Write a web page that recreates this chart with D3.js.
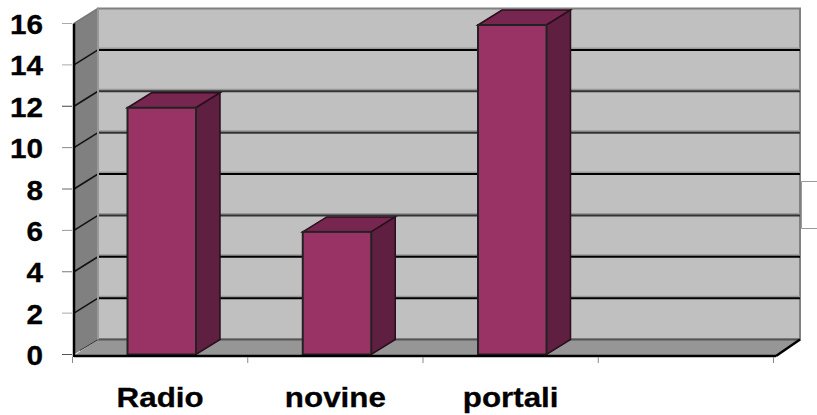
<!DOCTYPE html>
<html>
<head>
<meta charset="utf-8">
<script src="https://cdnjs.cloudflare.com/ajax/libs/d3/7.8.5/d3.min.js"></script>
<style>
    html, body { margin: 0; padding: 0; background: #fff; }
    svg { display: block; }
    text { font-family: "Liberation Sans", Arial, sans-serif; font-weight: bold; fill: #000; stroke: #000; stroke-width: 0.3; }
</style>
</head>
<body>
<div id="chart"></div>
<script>
var categories = ["Radio", "novine", "portali", ""];
var values = [12, 6, 16];
var yTicks = [0, 2, 4, 6, 8, 10, 12, 14, 16];
// the scanned original has uneven line darkness, one shade per tick
var gridShades = ["#444", "#000", "#000", "#333", "#000", "#333", "#333", "#000", "#808080"];
var tickShades = ["#555", "#aaa", "#777", "#999", "#666", "#888", "#444", "#aaa", "#aaa"];

var width = 817, height = 415;
var depthX = 24, depthY = -15;

var svg = d3.select("#chart").append("svg")
    .attr("width", width)
    .attr("height", height);

var x = d3.scaleBand().domain(categories).range([72.5, 773.5]);
var y = d3.scaleLinear().domain([0, 16]).range([354.5, 23.5]);

var left = 74, right = 776;
var line = d3.line();

function poly(points, fill) {
    return svg.append("path")
        .attr("d", line(points) + "Z")
        .attr("fill", fill);
}

// back wall, side wall, floor
poly([[left + depthX, y(16) + depthY], [right + depthX, y(16) + depthY],
      [right + depthX, y(0) + depthY], [left + depthX, y(0) + depthY]], "#c0c0c0")
    .attr("stroke", "#808080").attr("stroke-width", 2);
poly([[left, y(16)], [left + depthX, y(16) + depthY],
      [left + depthX, y(0) + depthY], [left, y(0)]], "#808080");
poly([[left, y(0) + 1], [left + depthX, y(0) + depthY], [right + depthX, y(0) + depthY], [right, y(0) + 1]], "#969696");
svg.append("line")
    .attr("x1", left + depthX).attr("x2", right + depthX)
    .attr("y1", y(0) + depthY).attr("y2", y(0) + depthY)
    .attr("stroke", "#555").attr("stroke-width", 2);

// gridlines: a soft grey shadow above the dark line, then the diagonal on the wall
var grid = svg.append("g");
yTicks.slice(1, 8).forEach(function (t, i) {
    var yy = y(t) + depthY;
    grid.append("line")
        .attr("x1", left + depthX).attr("x2", right + depthX)
        .attr("y1", yy - 1.5).attr("y2", yy - 1.5)
        .attr("stroke", "#999").attr("stroke-width", 2);
    grid.append("line")
        .attr("x1", left + depthX).attr("x2", right + depthX)
        .attr("y1", yy).attr("y2", yy)
        .attr("stroke", gridShades[i + 1]).attr("stroke-width", 2);
    grid.append("line")
        .attr("x1", left).attr("x2", left + depthX)
        .attr("y1", y(t)).attr("y2", yy)
        .attr("stroke", "#111").attr("stroke-width", 1.5);
});
svg.append("line")
    .attr("x1", left).attr("x2", left + depthX)
    .attr("y1", y(16)).attr("y2", y(16) + depthY)
    .attr("stroke", "#777").attr("stroke-width", 1.5);
svg.append("line")
    .attr("x1", left + 6).attr("x2", left + depthX)
    .attr("y1", y(0) - 4).attr("y2", y(0) + depthY)
    .attr("stroke", "#333").attr("stroke-width", 1);
svg.append("line")
    .attr("x1", left + depthX).attr("x2", left + depthX)
    .attr("y1", y(16) + depthY).attr("y2", y(0) + depthY)
    .attr("stroke", "#999").attr("stroke-width", 2);

// bars, tops sit a pixel under the axis value in the original
var barWidth = 68.5, barOffset = 55, topInset = 1.5;
function barTop(d) { return y(d) + topInset; }

var bars = svg.append("g").selectAll("g")
    .data(values)
    .enter().append("g");

bars.append("path") // top face
    .attr("d", function (d, i) {
        var x0 = x(categories[i]) + barOffset;
        return line([[x0, barTop(d)], [x0 + depthX, barTop(d) + depthY], [x0 + barWidth + depthX, barTop(d) + depthY], [x0 + barWidth, barTop(d)]]) + "Z";
    })
    .attr("fill", "#76264f")
    .attr("stroke", "#2a0f1e").attr("stroke-width", 1.5);
bars.append("path") // side face
    .attr("d", function (d, i) {
        var x0 = x(categories[i]) + barOffset + barWidth;
        return line([[x0, barTop(d)], [x0 + depthX, barTop(d) + depthY], [x0 + depthX, y(0) + depthY], [x0, y(0)]]) + "Z";
    })
    .attr("fill", "#5f1f40")
    .attr("stroke", "#2a0f1e").attr("stroke-width", 1.5);
bars.append("rect") // front face
    .attr("x", function (d, i) { return x(categories[i]) + barOffset; })
    .attr("y", barTop)
    .attr("width", barWidth)
    .attr("height", function (d) { return y(0) - barTop(d); })
    .attr("fill", "#993366")
    .attr("stroke", "#222").attr("stroke-width", 2);

// front axis lines
svg.append("line")
    .attr("x1", left).attr("x2", left)
    .attr("y1", y(16)).attr("y2", y(0) + 2.5)
    .attr("stroke", "#000").attr("stroke-width", 2.5);
svg.append("line")
    .attr("x1", left).attr("x2", right)
    .attr("y1", y(0) + 1.5).attr("y2", y(0) + 1.5)
    .attr("stroke", "#000").attr("stroke-width", 2.5);
svg.append("line")
    .attr("x1", right).attr("x2", right + depthX)
    .attr("y1", y(0) + 1.5).attr("y2", y(0) + depthY)
    .attr("stroke", "#000").attr("stroke-width", 2.5);

// y axis labels and ticks
var yLabels = svg.append("g").selectAll("g")
    .data(yTicks)
    .enter().append("g")
    .attr("transform", function (d) { return "translate(0," + y(d) + ")"; });
yLabels.append("line")
    .attr("x1", 62).attr("x2", 72)
    .attr("stroke", function (d, i) { return tickShades[i]; });
// the original text is stretched sideways
yLabels.append("text")
    .attr("transform", "translate(43,10.5) scale(1.1,1)")
    .attr("text-anchor", "end")
    .attr("font-size", 27)
    .text(function (d) { return d; });

// x axis ticks and labels
var xTicks = categories.map(function (c) { return x(c); }).concat([x.range()[1]]);
svg.append("g").selectAll("line")
    .data(xTicks)
    .enter().append("line")
    .attr("x1", function (d) { return d; })
    .attr("x2", function (d) { return d; })
    .attr("y1", 357).attr("y2", 363)
    .attr("stroke", "#888");

svg.append("g").selectAll("text")
    .data(categories)
    .enter().append("text")
    .attr("transform", function (d) {
        return "translate(" + (x(d) + x.bandwidth() / 2) + ",407) scale(1.12,1)";
    })
    .attr("text-anchor", "middle")
    .attr("font-size", 28)
    .text(function (d) { return d; });

// stub of the clipped legend box on the right edge
svg.append("path")
    .attr("d", "M817,181.5H801.5V228.5H817")
    .attr("fill", "none")
    .attr("stroke", "#999");
</script>
</body>
</html>
